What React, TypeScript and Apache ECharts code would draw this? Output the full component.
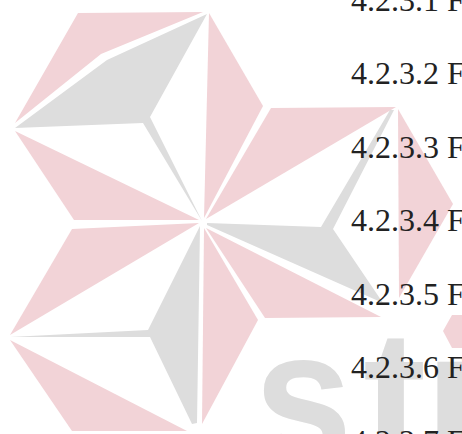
import React, { useEffect, useRef } from "react";
import * as echarts from "echarts";

// Visible section headings (text continues past the right edge of the page)
const HEADING_NUMBERS = ["4.2.3.1", "4.2.3.2", "4.2.3.3", "4.2.3.4", "4.2.3.5", "4.2.3.6", "4.2.3.7"];
const HEADING_WORD = "F";
// Watermark word
const WATERMARK_LETTERS = ["s", "t", "ı"];

const PINK = "#f2d3d7";
const GREY = "#dddddd";
const TEXT = "#222222";

// Watermark logo pieces (drawing geometry)
const LOGO_PIECES: { c: string; p: number[][] }[] = [
  // upper-left hexagon
  { c: PINK, p: [[78, 13], [203, 12], [101, 54], [15, 123]] },
  { c: GREY, p: [[15, 128], [107, 60], [207, 14], [150, 117], [202, 221], [143, 123]] },
  { c: PINK, p: [[15, 131], [199, 220], [74, 220]] },
  { c: PINK, p: [[209, 13], [263, 106], [204, 218]] },
  // right hexagon
  { c: PINK, p: [[271, 108], [396, 107], [206, 219]] },
  { c: GREY, p: [[207, 223], [321, 227], [390, 110], [394, 110], [333, 229], [383, 303], [207, 225]] },
  { c: PINK, p: [[398, 109], [453, 204], [399, 298]] },
  { c: PINK, p: [[206, 228], [381, 317], [265, 318]] },
  // lower-left hexagon
  { c: PINK, p: [[72, 229], [199, 223], [10, 335]] },
  { c: GREY, p: [[10, 337], [148, 330], [200, 226], [197, 423], [192, 424], [150, 337]] },
  { c: PINK, p: [[10, 340], [187, 431], [72, 431]] },
  { c: PINK, p: [[204, 228], [258, 320], [202, 424]] },
  // dot of the i
  { c: PINK, p: [[443, 331], [452, 315], [475, 315], [485, 331], [475, 348], [452, 348]] },
];

export default function App() {
  const ref = useRef<HTMLDivElement>(null);
  useEffect(() => {
    if (!ref.current) return;
    const chart = echarts.init(ref.current, null, { renderer: "svg" });
    const elements: any[] = [];
    LOGO_PIECES.forEach((piece) => {
      elements.push({
        type: "polygon",
        shape: { points: piece.p },
        style: { fill: piece.c },
        z: 1,
      });
    });
    const letterX = [254, 363, 424];
    const letterScale = [0.93, 1, 1];
    WATERMARK_LETTERS.forEach((ch, i) => {
      elements.push({
        type: "text",
        x: letterX[i],
        y: 396,
        scaleX: letterScale[i],
        z: 1,
        style: {
          text: ch,
          fontSize: 190,
          fontWeight: "bold",
          fontFamily: "Liberation Sans",
          fill: GREY,
          align: "left",
          verticalAlign: "middle",
        },
      });
    });
    const baseline0 = 11.5;
    const step = 73.5;
    HEADING_NUMBERS.forEach((num, i) => {
      elements.push({
        type: "text",
        x: 351,
        y: baseline0 + i * step - 12,
        z: 10,
        style: {
          text: num + " " + HEADING_WORD,
          fontSize: 32,
          fontFamily: "Liberation Serif",
          fill: TEXT,
          align: "left",
          verticalAlign: "middle",
        },
      });
    });
    chart.setOption({
      animation: false,
      backgroundColor: "#ffffff",
      graphic: { elements },
    });
    return () => chart.dispose();
  }, []);
  return (
    <div
      ref={ref}
      style={{ position: "absolute", left: 0, top: 0, width: 462, height: 434 }}
    />
  );
}
